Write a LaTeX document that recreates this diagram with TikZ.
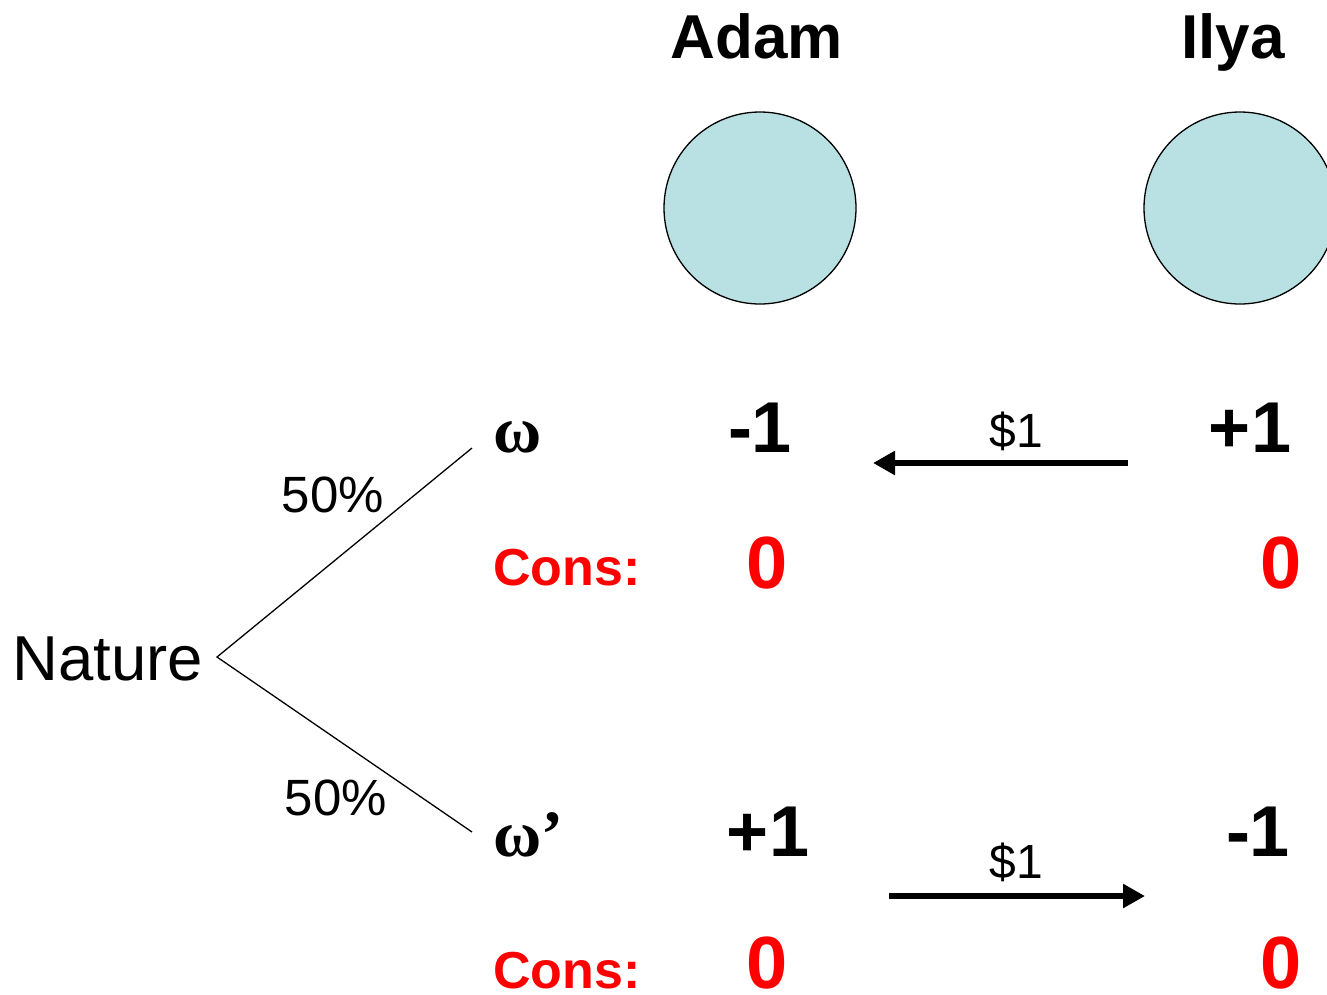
\documentclass[tikz,border=0pt]{standalone}
\usepackage{fontspec}
\setmainfont{Liberation Sans}
\newfontfamily\greekserif{Liberation Serif}
\usetikzlibrary{arrows.meta}
\definecolor{agentfill}{RGB}{185,224,227}
\definecolor{consred}{RGB}{255,0,0}
\begin{document}
\begin{tikzpicture}[x=1pt,y=-1pt,
  every node/.style={inner sep=0pt,outer sep=0pt,anchor=base},
  playername/.style={font=\fontsize{62}{70}\selectfont\bfseries},
  agent/.style={circle,draw=black,line width=1.3pt,fill=agentfill,minimum size=192pt,anchor=center},
  amount/.style={font=\fontsize{72}{80}\selectfont\bfseries},
  money/.style={font=\fontsize{48}{54}\selectfont},
  conslabel/.style={font=\fontsize{52}{60}\selectfont\bfseries,text=consred,anchor=base west},
  consval/.style={font=\fontsize{74}{80}\selectfont\bfseries,text=consred},
  statelabel/.style={font=\fontsize{66}{72}\selectfont\greekserif\bfseries,anchor=base west},
  prob/.style={font=\fontsize{51}{56}\selectfont},
  transfer/.style={line width=6.5pt,-{Triangle[length=22pt,width=23pt]}},
  branch/.style={line width=1.3pt}]
\useasboundingbox (0,0) rectangle (1327,994);

% players
\node[playername] (adam) at (757,58) {Adam};
\node[playername] (ilya) at (1233,58) {Ilya};
\node[agent] (adamc) at (760,208) {};
\node[agent] (ilyac) at (1240,208) {};

% nature and its two states
\node[font=\fontsize{63.5}{70}\selectfont,anchor=base east] (nature) at (203,680) {Nature};
\node[statelabel] (w1) at (493,452) {ω};
\node[statelabel] (w2) at (493,856) {ω’};
\coordinate (root) at (217,657);
\coordinate (w1end) at (472,448);
\coordinate (w2end) at (472,832);
\draw[branch] (w1end) -- (root) -- (w2end);
\node[prob] (p1) at (333,512) {50\%};
\node[prob] (p2) at (336,815) {50\%};

% state omega
\node[amount] (a1) at (760,452) {-1};
\node[amount] (i1) at (1250,452) {+1};
\node[money] (m1) at (1016,447) {\$1};
\coordinate (t1s) at (1128,463);
\coordinate (t1e) at (873,463);
\draw[transfer] (t1s) -- (t1e);
\node[conslabel] (c1) at (493,585) {Cons:};
\node[consval] (ac1) at (767,588) {0};
\node[consval] (ic1) at (1281,588) {0};

% state omega'
\node[amount] (a2) at (768,856) {+1};
\node[amount] (i2) at (1258,856) {-1};
\node[money] (m2) at (1016,878) {\$1};
\coordinate (t2s) at (889,896);
\coordinate (t2e) at (1145,896);
\draw[transfer] (t2s) -- (t2e);
\node[conslabel] (c2) at (493,988) {Cons:};
\node[consval] (ac2) at (767,988) {0};
\node[consval] (ic2) at (1281,988) {0};
\end{tikzpicture}
\end{document}
